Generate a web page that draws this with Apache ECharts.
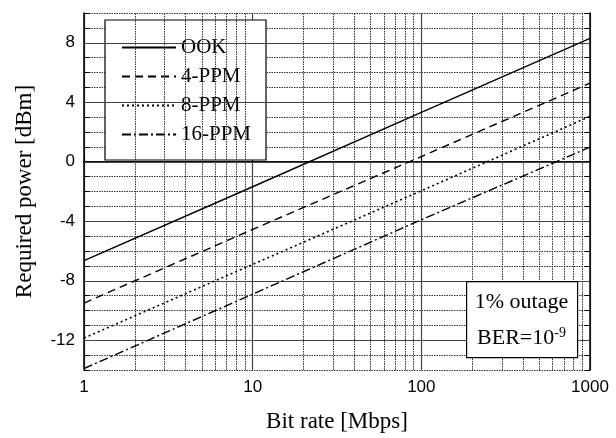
<!DOCTYPE html>
<html><head><meta charset="utf-8">
<script src="https://cdn.jsdelivr.net/npm/echarts@6/dist/echarts.min.js"></script>
<style>html,body{margin:0;padding:0;background:#fff}#c{width:616px;height:438px}</style>
</head><body><div id="c"></div>
<script>
const bitRate = [1, 10, 100, 1000];
const ook = [-6.65, -1.68, 3.32, 8.3];
const ppm4 = [-9.5, -4.55, 0.35, 5.28];
const ppm8 = [-11.85, -6.9, -1.95, 3.05];
const ppm16 = [-13.9, -8.9, -3.9, 0.98];
const seriesNames = ['OOK', '4-PPM', '8-PPM', '16-PPM'];
const yMajor = [-12, -8, -4, 0, 4, 8];
const xMinor = [2,3,4,5,6,7,8,9,20,30,40,50,60,70,80,90,200,300,400,500,600,700,800,900];

const serif = '"Liberation Serif", "Times New Roman", serif';
const sans = '"Liberation Sans", Arial, sans-serif';
const pair = arr => bitRate.map((x, i) => [x, arr[i]]);

const chart = echarts.init(document.getElementById('c'));
const lineTypes = ['solid', [8, 5], [2, 3], [9, 3, 2, 3]];
const values = [ook, ppm4, ppm8, ppm16];

const series = values.map((arr, i) => ({
  name: seriesNames[i], type: 'line', data: pair(arr), symbol: 'none',
  lineStyle: { color: '#000', width: i === 2 ? 1.6 : 1.4, type: lineTypes[i] },
  itemStyle: { color: '#000' }, z: 5, silent: true
}));
series.push({
  type: 'line', data: [], silent: true, z: 1,
  markLine: {
    silent: true, symbol: 'none', label: { show: false }, animation: false,
    lineStyle: { color: '#333', width: 1, type: [1.5, 1] },
    data: xMinor.map(v => ({ xAxis: v }))
  }
});
series.push({
  type: 'line', data: [], silent: true, z: 2,
  markLine: {
    silent: true, symbol: 'none', label: { show: false }, animation: false,
    lineStyle: { color: '#444', width: 1.2, type: 'solid' },
    data: yMajor.map(v => ({ yAxis: v }))
  }
});

chart.setOption({
  animation: false,
  backgroundColor: '#fff',
  grid: { left: 84, right: 26, top: 13, bottom: 65, show: false },
  xAxis: [{
    type: 'log', logBase: 10, min: 1, max: 1000, position: 'bottom',
    name: 'Bit rate [Mbps]', nameLocation: 'middle', nameGap: 40,
    nameTextStyle: { fontFamily: serif, fontSize: 23, color: '#000' },
    axisLine: { show: true, lineStyle: { color: '#000', width: 1.5 } },
    axisTick: { inside: true, length: 5, lineStyle: { color: '#000' } },
    axisLabel: { fontFamily: sans, fontSize: 17, color: '#000', margin: 9,
      formatter: v => String(Math.round(v)) },
    splitLine: { show: true, lineStyle: { color: '#444', width: 1.2, type: 'solid' } },
    minorSplitLine: { show: false }
  }, {
    type: 'log', logBase: 10, min: 1, max: 1000, position: 'top',
    axisLine: { show: true, lineStyle: { color: '#000', width: 1.5 } },
    axisTick: { show: false }, axisLabel: { show: false }, splitLine: { show: false }
  }],
  yAxis: [{
    type: 'value', min: -14, max: 10, interval: 1, position: 'left',
    name: 'Required power [dBm]', nameLocation: 'middle', nameGap: 48,
    nameTextStyle: { fontFamily: serif, fontSize: 23, color: '#000' },
    axisLine: { show: true, lineStyle: { color: '#000', width: 1.5 } },
    axisTick: { inside: true, length: 5, lineStyle: { color: '#000' } },
    axisLabel: { fontFamily: sans, fontSize: 17, color: '#000', margin: 9,
      formatter: v => (v % 4 === 0 ? String(v) : '') },
    splitLine: { show: true, lineStyle: { color: '#333', width: 1, type: [1.5, 1] } }
  }, {
    type: 'value', min: -14, max: 10, interval: 1, position: 'right',
    axisLine: { show: true, lineStyle: { color: '#000', width: 1.5 } },
    axisTick: { inside: true, length: 5, lineStyle: { color: '#000' } },
    axisLabel: { show: false }, splitLine: { show: false }
  }],
  legend: {
    data: seriesNames, orient: 'vertical', left: 105, top: 20,
    backgroundColor: '#fff', borderColor: '#000', borderWidth: 1.2,
    padding: [17, 15, 15, 16], itemWidth: 54, itemHeight: 14, itemGap: 8,
    itemStyle: { opacity: 0 },
    textStyle: { fontFamily: serif, fontSize: 21, color: '#000', lineHeight: 21 },
    selectedMode: false
  },
  graphic: [{
    type: 'rect', left: 466, top: 281, z: 100,
    shape: { width: 111, height: 76 },
    style: { fill: '#fff', stroke: '#000', lineWidth: 1.2 }
  }, {
    type: 'text', x: 521.5, y: 302, z: 101,
    style: { text: '1% outage', font: '22px ' + serif, fill: '#000', align: 'center', verticalAlign: 'middle' }
  }, {
    type: 'text', x: 521.5, y: 338, z: 101,
    style: {
      text: '{a|BER=10}{s|-9}', align: 'center', verticalAlign: 'middle',
      rich: {
        a: { fontFamily: serif, fontSize: 22, fill: '#000', color: '#000' },
        s: { fontFamily: serif, fontSize: 14, fill: '#000', color: '#000', verticalAlign: 'top', padding: [0, 0, 10, 0] }
      }
    }
  }],
  series: series
});
</script></body></html>
